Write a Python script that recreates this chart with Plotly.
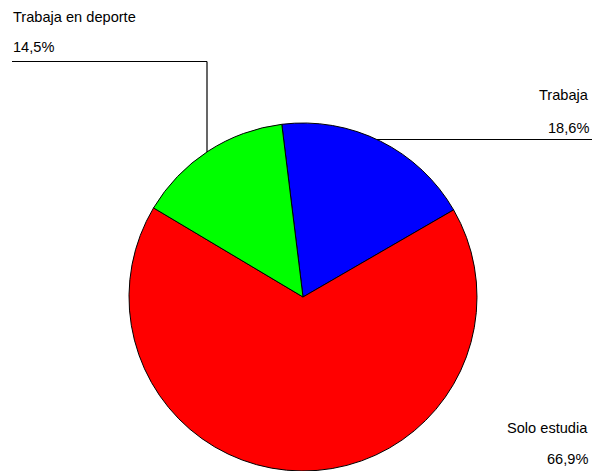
import plotly.graph_objects as go

labels = ["Trabaja", "Solo estudia", "Trabaja en deporte"]
values = [18.6, 66.9, 14.5]
colors = ["#0000FF", "#FF0000", "#00FF00"]

W, H = 592, 471

def px(x):
    return x / W

def py(y):
    return 1 - y / H

cx, cy, r = 303, 297, 174

fig = go.Figure(go.Pie(
    labels=labels,
    values=values,
    sort=False,
    direction="clockwise",
    rotation=-7,
    textinfo="none",
    showlegend=False,
    marker=dict(colors=colors, line=dict(color="black", width=1)),
    domain=dict(x=[px(cx - r), px(cx + r)], y=[py(cy + r), py(cy - r)]),
))

def pct(v):
    return f"{v:.1f}".replace(".", ",") + "%"

font = dict(family="Liberation Sans, Arial, sans-serif", size=14.6, color="black")
# label positions: (x, y_name, y_pct, xanchor)
pos = {
    "Trabaja en deporte": (11, 17, 47.5, "left"),
    "Trabaja": (591, 95, 127.5, "right"),
    "Solo estudia": (590, 428, 459, "right"),
}
annotations = []
for lab, val in zip(labels, values):
    x, y1, y2, xa = pos[lab]
    annotations.append(dict(x=px(x), y=py(y1), xref="paper", yref="paper", text=lab,
                            showarrow=False, xanchor=xa, yanchor="middle", font=font))
    annotations.append(dict(x=px(x), y=py(y2), xref="paper", yref="paper", text=pct(val),
                            showarrow=False, xanchor=xa, yanchor="middle", font=font))

shapes = [
    dict(type="line", xref="paper", yref="paper", x0=px(12), y0=py(61.5), x1=px(207), y1=py(61.5),
         line=dict(color="black", width=1.2)),
    dict(type="line", xref="paper", yref="paper", x0=px(207), y0=py(61.5), x1=px(207), y1=py(152),
         line=dict(color="black", width=1.2)),
    dict(type="line", xref="paper", yref="paper", x0=px(377), y0=py(139.5), x1=px(592), y1=py(139.5),
         line=dict(color="black", width=1.2)),
]

fig.update_layout(
    width=W, height=H,
    margin=dict(l=0, r=0, t=0, b=0),
    paper_bgcolor="white",
    plot_bgcolor="white",
    annotations=annotations,
    shapes=shapes,
)

fig.write_html(
    "out.html",
    config={"displayModeBar": False},
    post_script="document.body.style.margin='0';document.body.style.padding='0';document.body.style.overflow='hidden';",
)
